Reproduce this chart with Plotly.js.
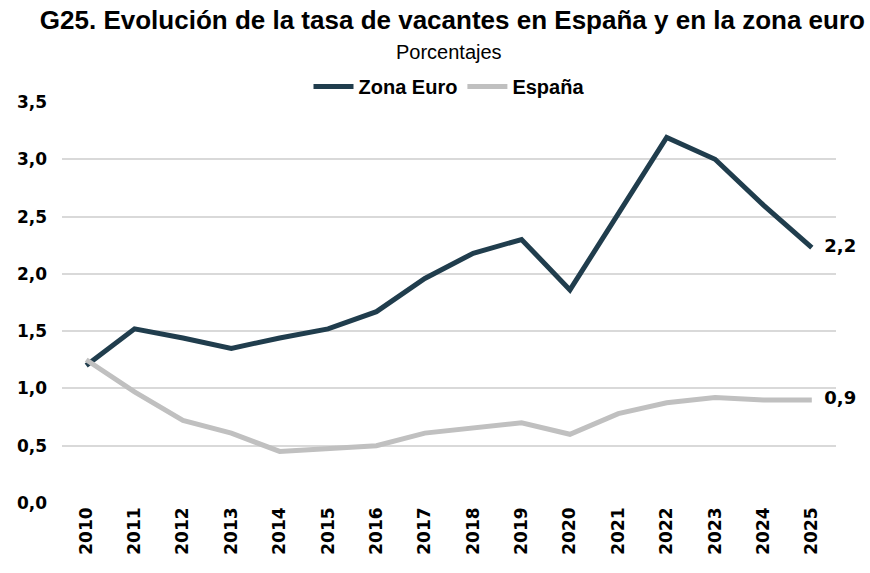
<!DOCTYPE html>
<html>
<head>
<meta charset="utf-8">
<script src="https://cdn.plot.ly/plotly-3.0.1.min.js"></script>
<style>html,body{margin:0;padding:0;background:#fff;}#chart{width:870px;height:573px;}</style>
</head>
<body>
<div id="chart"></div>
<script>
const years = ['2010','2011','2012','2013','2014','2015','2016','2017','2018','2019','2020','2021','2022','2023','2024','2025'];
const zonaEuro = [1.2, 1.52, 1.44, 1.35, 1.44, 1.52, 1.67, 1.96, 2.18, 2.30, 1.86, 2.52, 3.19, 3.0, 2.6, 2.23];
const espana = [1.25, 0.97, 0.72, 0.61, 0.45, 0.475, 0.5, 0.61, 0.655, 0.70, 0.60, 0.78, 0.875, 0.92, 0.90, 0.90];
const yTicks = [0, 0.5, 1, 1.5, 2, 2.5, 3, 3.5];

const fmt = v => v.toFixed(1).replace('.', ',');
const lastLabel = arr => arr.map((v, i) => i === arr.length - 1 ? '\u00a0\u00a0' + fmt(v) : '');

const titleFont = 'Liberation Sans, Arial, sans-serif';
const tickFont = 'DejaVu Sans, Verdana, sans-serif';

const traces = [
  {x: years, y: zonaEuro, name: 'Zona Euro', mode: 'lines+text', type: 'scatter',
   line: {color: '#203d4d', width: 5}, text: lastLabel(zonaEuro), textposition: 'middle right',
   textfont: {family: tickFont, size: 18, color: '#000', weight: 'bold'}, cliponaxis: false},
  {x: years, y: espana, name: 'España', mode: 'lines+text', type: 'scatter',
   line: {color: '#c0c0c0', width: 5}, text: lastLabel(espana), textposition: 'middle right',
   textfont: {family: tickFont, size: 18, color: '#000', weight: 'bold'}, cliponaxis: false}
];

const layout = {
  width: 870, height: 573,
  margin: {l: 62, r: 34, t: 102, b: 70},
  paper_bgcolor: '#fff', plot_bgcolor: '#fff',
  showlegend: true,
  title: {text: '<b>G25. Evolución de la tasa de vacantes en España y en la zona euro</b>',
          font: {family: titleFont, size: 26, color: '#000'}, x: 0.52, xanchor: 'center', y: 0.965, yanchor: 'middle'},
  annotations: [{text: 'Porcentajes', xref: 'paper', yref: 'paper', x: 0.5, y: 1, yshift: 50,
                 showarrow: false, font: {family: titleFont, size: 20, color: '#000'}, xanchor: 'center', yanchor: 'middle'}],
  legend: {orientation: 'h', x: 0.5, xanchor: 'center', y: 0.99, yanchor: 'bottom', yref: 'paper',
           font: {family: titleFont, size: 20, color: '#000', weight: 'bold'}, itemwidth: 40, tracegroupgap: 0},
  xaxis: {type: 'category', range: [-0.5, 15.5], tickangle: -90, showgrid: false, zeroline: false, showline: false, ticks: '',
          tickfont: {family: tickFont, size: 17, color: '#000', weight: 'bold'}},
  yaxis: {range: [0, 3.5], tickvals: yTicks, ticktext: yTicks.map(fmt), showgrid: true, gridcolor: '#d9d9d9', gridwidth: 1.5,
          zeroline: false, showline: false, ticks: '', ticklabelstandoff: 14,
          tickfont: {family: tickFont, size: 17, color: '#000', weight: 'bold'}}
};

Plotly.newPlot('chart', traces, layout, {displayModeBar: false});
</script>
</body>
</html>
